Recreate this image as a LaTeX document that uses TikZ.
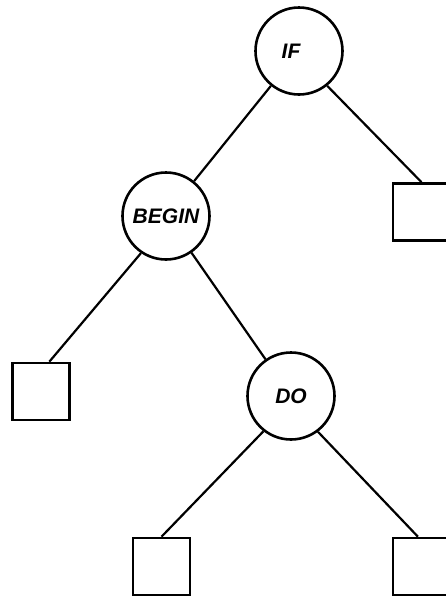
\documentclass[tikz,border=0pt]{standalone}
\usepackage{fontspec}
\setmainfont{Liberation Sans}
\usetikzlibrary{calc}
\tikzset{
  circnode/.style={circle,draw,line width=2.6pt,minimum size=87pt,inner sep=0pt,
    font=\fontsize{21}{21}\selectfont\bfseries\itshape},
  boxnode/.style={rectangle,draw,line width=2.6pt,minimum size=57pt,inner sep=0pt},
  edge/.style={line width=2.2pt}
}
\begin{document}
\begin{tikzpicture}[x=1pt,y=-1pt]
\clip (0,0) rectangle (446,598);
\node[circnode] (if) at (299,51) {\hspace*{-16pt}IF};
\node[circnode] (begin) at (166,216) {BEGIN};
\node[circnode] (do) at (291,396) {DO};
\node[boxnode] (rsq) at (421.5,212) {};
\node[boxnode] (lsq) at (41,391.5) {};
\node[boxnode] (blsq) at (161.5,566.5) {};
\node[boxnode] (brsq) at (421.5,566.5) {};
\draw[edge] (if) -- (begin);
\draw[edge] (if.-51) -- (rsq.north);
\draw[edge] (begin) -- (do);
\draw[edge] (begin.236) -- ($(lsq.north west)!0.64!(lsq.north east)$);
\draw[edge] (do.232) -- (blsq.north);
\draw[edge] (do.-53) -- ($(brsq.north west)!0.44!(brsq.north east)$);
\end{tikzpicture}
\end{document}
